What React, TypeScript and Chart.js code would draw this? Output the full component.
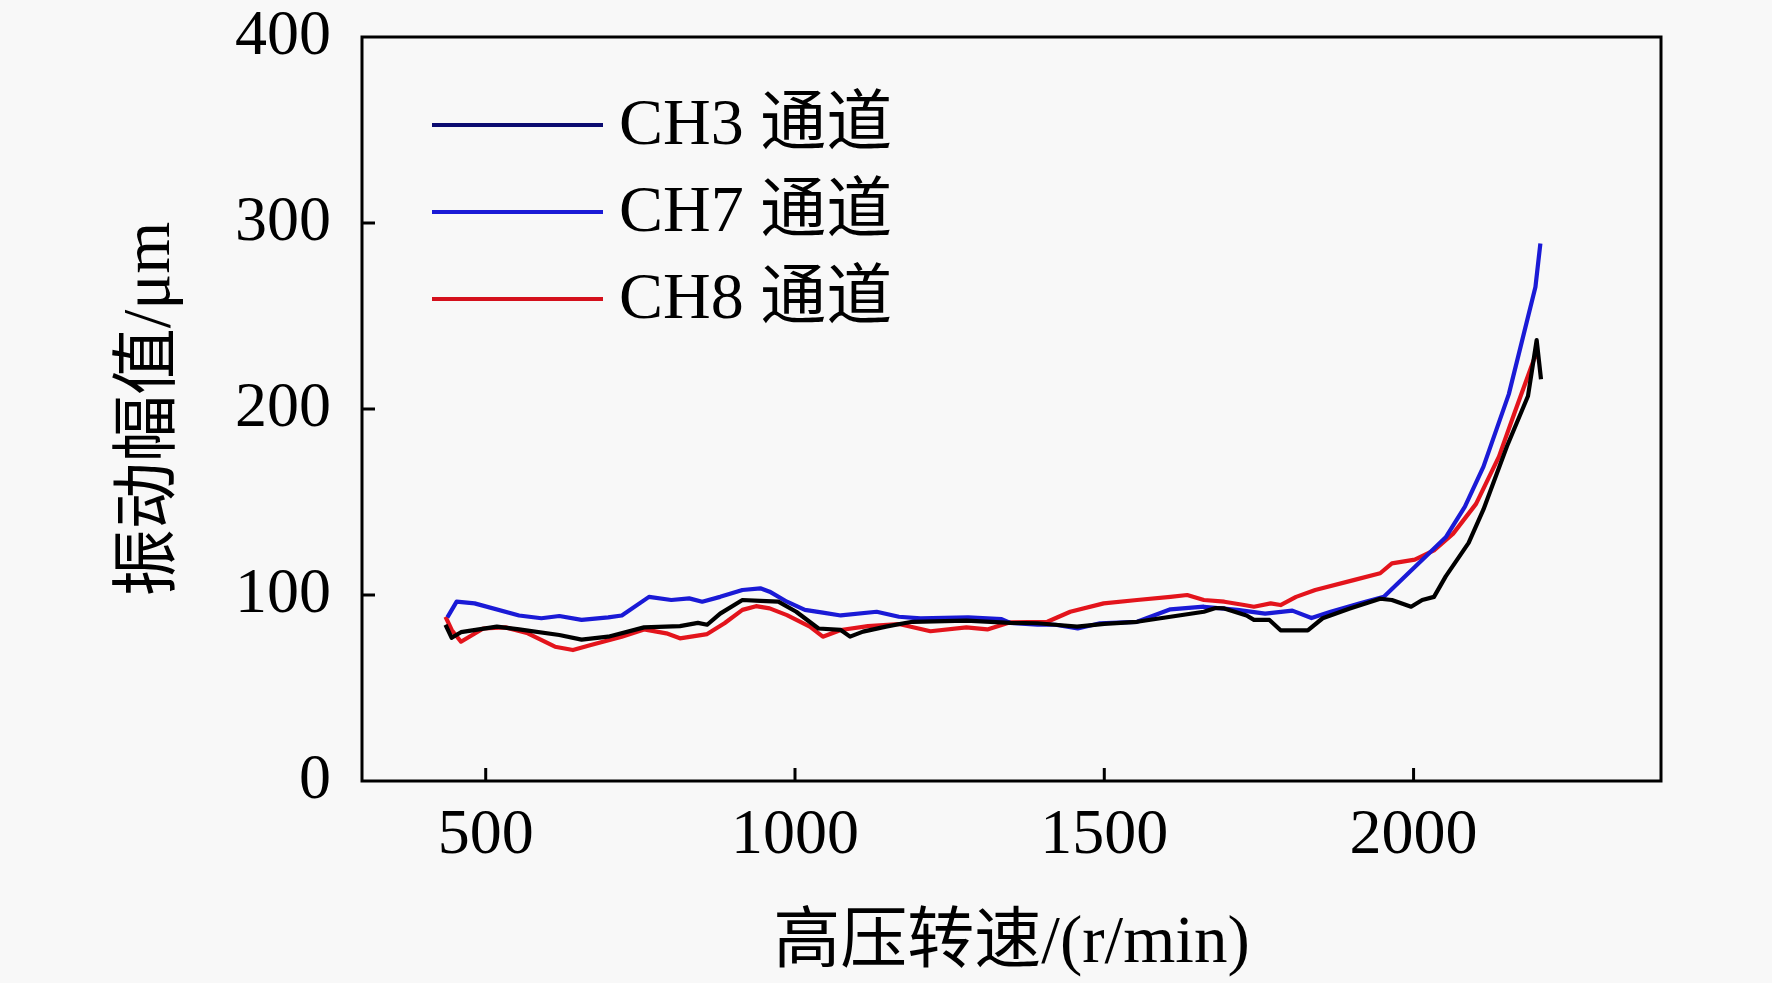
import React, { useEffect, useRef } from "react";
import { Chart, registerables } from "chart.js";

Chart.register(...registerables);

// ---- data ----
const seriesLabels = ["CH3 通道", "CH7 通道", "CH8 通道"];

const ch3Speed = [435, 445, 460, 518, 554, 619, 655, 698, 756, 814, 843, 858, 879, 915, 944, 973, 1002, 1038, 1074, 1089, 1110, 1147, 1176, 1190, 1277, 1348, 1392, 1421, 1456, 1500, 1553, 1607, 1661, 1680, 1694, 1730, 1742, 1767, 1785, 1829, 1853, 1897, 1946, 1965, 1996, 2014, 2033, 2052, 2089, 2113, 2151, 2185, 2199, 2206];
const ch3Amp = [84, 77, 80, 83, 81.5, 78.5, 76, 77.6, 82.6, 83.3, 85, 84, 90, 97.3, 96.8, 96.4, 91, 82, 81.2, 77.6, 80.3, 83, 84.8, 85.6, 86.2, 85, 84.8, 84, 83, 84.5, 85.6, 88.3, 91, 93, 92.8, 89, 86.6, 86.6, 81, 81, 87.5, 92.7, 98, 97.3, 93.7, 97.3, 99, 110, 128, 146, 180, 207, 237, 216];

const ch7Speed = [438, 453, 482, 554, 590, 619, 655, 698, 720, 764, 800, 829, 850, 879, 915, 944, 959, 987, 1016, 1045, 1074, 1132, 1168, 1203, 1280, 1334, 1348, 1392, 1421, 1457, 1493, 1553, 1607, 1661, 1715, 1760, 1804, 1835, 1866, 1915, 1952, 2002, 2052, 2083, 2113, 2154, 2197, 2205];
const ch7Amp = [88, 96.4, 95.5, 89, 87.5, 88.7, 86.6, 88, 89, 99, 97.3, 98.2, 96.4, 99, 102.7, 103.6, 101.8, 96.4, 92, 90.5, 89, 91, 88.3, 87.4, 88, 87, 85, 84, 84, 82, 84.8, 85.6, 92.3, 93.7, 92, 90, 91.6, 87.6, 91, 95.7, 99, 115, 131, 147.5, 169, 208, 265.6, 289];

const ch8Speed = [435, 445, 460, 496, 532, 568, 612, 641, 670, 720, 756, 792, 814, 858, 886, 915, 937, 959, 987, 1024, 1045, 1074, 1118, 1168, 1219, 1277, 1311, 1348, 1408, 1445, 1499, 1553, 1607, 1634, 1661, 1694, 1726, 1742, 1769, 1785, 1810, 1841, 1903, 1946, 1965, 2002, 2033, 2064, 2101, 2138, 2163, 2195, 2200];
const ch8Amp = [88.3, 81.2, 74.9, 82, 82.6, 79.4, 72.2, 70.4, 73.1, 77.6, 81.5, 79.4, 76.7, 79, 84.8, 92, 94, 92.8, 89.2, 83, 77.6, 81.2, 83.3, 84.4, 80.5, 82.6, 81.5, 85.3, 85.6, 91, 95.5, 97.3, 99, 100, 97.3, 96.4, 94.6, 93.7, 95.5, 94.6, 99, 102.7, 108, 111.7, 117, 119, 124, 133, 149, 174.4, 197.7, 227, 229];

const xTicks = [500, 1000, 1500, 2000];
const yTicks = [0, 100, 200, 300, 400];
const xRange = [300, 2400];
const yRange = [0, 400];

const xTitle = "高压转速/(r/min)";
const yTitle = "振动幅值/μm";

const lineColors = ["#000000", "#1a1ad6", "#e3141c"];
const legendColors = ["#0b0b70", "#1a1ad6", "#d4101c"];

const FONT = "'Liberation Serif', 'Times New Roman', 'Noto Sans CJK SC', serif";

const pts = (xs: number[], ys: number[]) => xs.map((x, i) => ({ x, y: ys[i] }));

const decorPlugin = {
  id: "decor",
  beforeDraw(chart: any) {
    const { ctx, width, height } = chart;
    ctx.save();
    ctx.fillStyle = "#f8f8f8";
    ctx.fillRect(0, 0, width, height);
    ctx.restore();
  },
  afterDraw(chart: any) {
    const { ctx, chartArea: a, scales } = chart;
    ctx.save();
    ctx.strokeStyle = "#000";
    ctx.lineWidth = 3;
    ctx.strokeRect(a.left, a.top, a.right - a.left, a.bottom - a.top);
    ctx.beginPath();
    xTicks.forEach((v) => {
      const px = scales.x.getPixelForValue(v);
      ctx.moveTo(px, a.bottom);
      ctx.lineTo(px, a.bottom - 13);
    });
    yTicks.forEach((v) => {
      if (v <= yRange[0] || v >= yRange[1]) return;
      const py = scales.y.getPixelForValue(v);
      ctx.moveTo(a.left, py);
      ctx.lineTo(a.left + 13, py);
    });
    ctx.stroke();

    // legend
    ctx.font = `66px ${FONT}`;
    ctx.textBaseline = "middle";
    ctx.textAlign = "left";
    chart.data.datasets.forEach((ds: any, i: number) => {
      const y = a.top + 88 + i * 87;
      ctx.strokeStyle = legendColors[i];
      ctx.lineWidth = 4;
      ctx.beginPath();
      ctx.moveTo(a.left + 70, y);
      ctx.lineTo(a.left + 241, y);
      ctx.stroke();
      ctx.fillStyle = "#000";
      ctx.fillText(ds.label, a.left + 257, y + 2);
    });
    ctx.restore();
  },
};

export default function App() {
  const ref = useRef<HTMLCanvasElement | null>(null);

  useEffect(() => {
    if (!ref.current) return;
    const chart = new Chart(ref.current, {
      type: "line",
      data: {
        datasets: [
          { label: seriesLabels[0], data: pts(ch3Speed, ch3Amp), borderColor: lineColors[0] },
          { label: seriesLabels[1], data: pts(ch7Speed, ch7Amp), borderColor: lineColors[1] },
          { label: seriesLabels[2], data: pts(ch8Speed, ch8Amp), borderColor: lineColors[2] },
        ].map((d) => ({ ...d, borderWidth: 4.2, pointRadius: 0, tension: 0, fill: false, borderJoinStyle: "round" })),
      },
      options: {
        animation: false,
        responsive: false,
        devicePixelRatio: 1,
        layout: { padding: { top: 37, right: 111, bottom: 0, left: 0 } },
        plugins: { legend: { display: false }, tooltip: { enabled: false } },
        scales: {
          x: {
            type: "linear",
            min: xRange[0],
            max: xRange[1],
            afterBuildTicks: (s: any) => {
              s.ticks = xTicks.map((v) => ({ value: v }));
            },
            afterFit: (s: any) => {
              s.height = 202;
              s.paddingLeft = 0;
              s.paddingRight = 0;
            },
            grid: { display: false, drawTicks: false },
            border: { display: false },
            ticks: {
              color: "#000",
              padding: 23,
              maxRotation: 0,
              callback: (v: any) => String(v),
              font: { family: FONT, size: 64, lineHeight: 1 },
            },
            title: {
              display: true,
              text: xTitle,
              color: "#000",
              padding: { top: 0, bottom: 5 },
              font: { family: FONT, size: 67, lineHeight: 1 },
            },
          },
          y: {
            type: "linear",
            min: yRange[0],
            max: yRange[1],
            afterBuildTicks: (s: any) => {
              s.ticks = yTicks.map((v) => ({ value: v }));
            },
            afterFit: (s: any) => {
              s.width = 362;
              s.paddingTop = 0;
              s.paddingBottom = 0;
            },
            grid: { display: false, drawTicks: false },
            border: { display: false },
            ticks: {
              color: "#000",
              padding: 31,
              callback: (v: any) => String(v),
              font: { family: FONT, size: 64, lineHeight: 1 },
            },
            title: {
              display: true,
              text: yTitle,
              color: "#000",
              padding: { top: 118, bottom: 0 },
              font: { family: FONT, size: 67, lineHeight: 1 },
            },
          },
        },
      },
      plugins: [decorPlugin],
    } as any);
    return () => chart.destroy();
  }, []);

  return (
    <div style={{ position: "fixed", left: 0, top: 0, width: 1772, height: 983, background: "#f8f8f8" }}>
      <canvas ref={ref} width={1772} height={983} style={{ display: "block", width: 1772, height: 983 }} />
    </div>
  );
}
